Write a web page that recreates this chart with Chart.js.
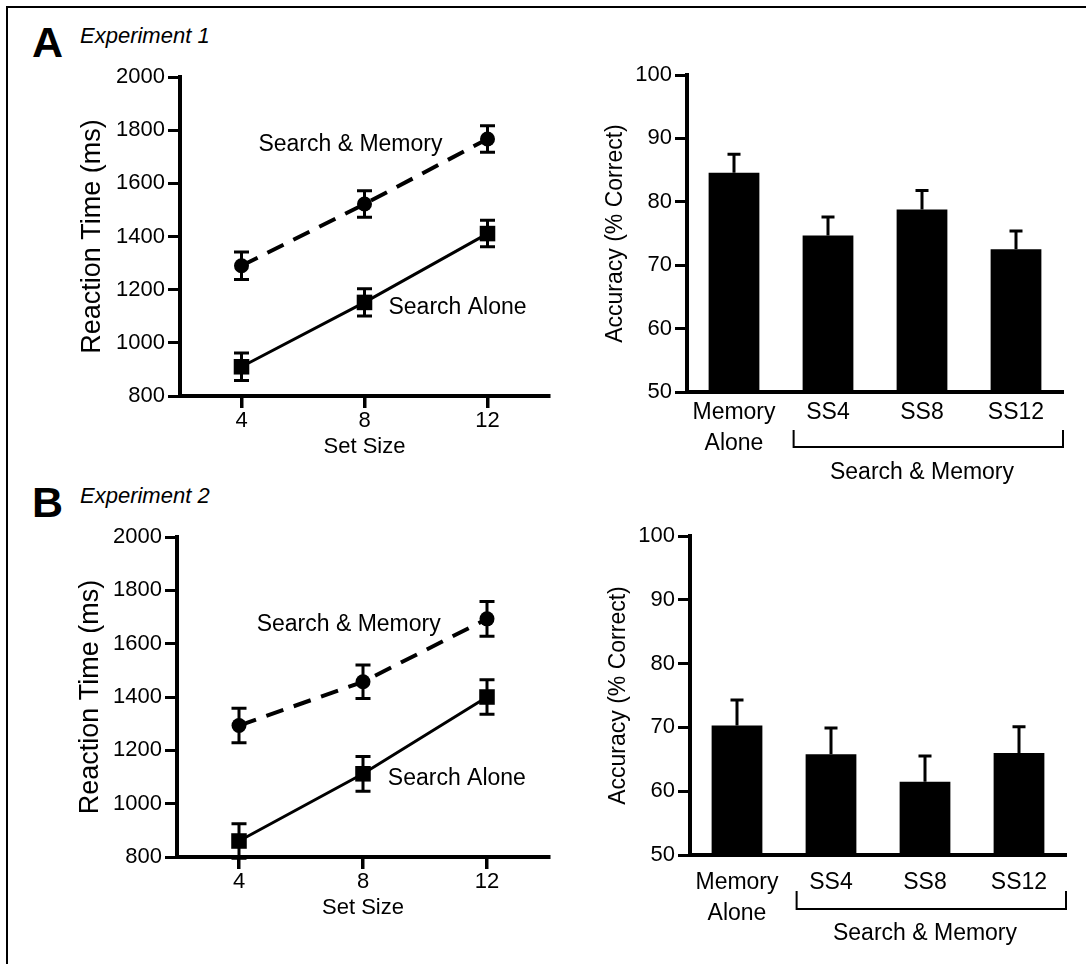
<!DOCTYPE html>
<html>
<head>
<meta charset="utf-8">
<script src="https://cdn.jsdelivr.net/npm/chart.js@4.4.0/dist/chart.umd.min.js"></script>
<style>
  html, body { margin: 0; padding: 0; background: #fff; }
  body { width: 1086px; height: 964px; position: relative; overflow: hidden;
         font-family: "Liberation Sans", Arial, Helvetica, sans-serif; color: #000; }
  #frame { position: absolute; left: 6px; top: 6px; right: -10px; bottom: -10px;
           border-left: 2px solid #000; border-top: 2px solid #000; }
  .box { position: absolute; }
  .letter { position: absolute; font-weight: bold; font-size: 43px; line-height: 43px; }
  .exp { position: absolute; font-style: italic; font-size: 22px; line-height: 22px; }
</style>
</head>
<body>
<div id="frame"></div>
<div class="letter" style="left:32px; top:21px">A</div>
<div class="exp" style="left:80px; top:25px">Experiment 1</div>
<div class="letter" style="left:32px; top:481px">B</div>
<div class="exp" style="left:80px; top:485px">Experiment 2</div>

<div class="box" id="boxA1"><canvas id="rtA"></canvas></div>
<div class="box" id="boxA2"><canvas id="accA"></canvas></div>
<div class="box" id="boxB1"><canvas id="rtB"></canvas></div>
<div class="box" id="boxB2"><canvas id="accB"></canvas></div>

<script>
// ---- data ----
const setSizes = [4, 8, 12];

const exp1DualRT = [1290, 1522, 1767];
const exp1DualSE = [52, 50, 50];
const exp1SearchRT = [910, 1152, 1411];
const exp1SearchSE = [52, 51, 50];

const exp2DualRT = [1293, 1457, 1693];
const exp2DualSE = [65, 63, 65];
const exp2SearchRT = [860, 1112, 1400];
const exp2SearchSE = [65, 65, 65];

const accLabels = [['Memory', 'Alone'], 'SS4', 'SS8', 'SS12'];
const exp1Acc = [84.6, 74.7, 78.8, 72.5];
const exp1AccSE = [2.9, 2.9, 3.0, 2.9];
const exp2Acc = [70.3, 65.8, 61.5, 66.0];
const exp2AccSE = [4.0, 4.1, 4.0, 4.1];

const rtTicks = [800, 1000, 1200, 1400, 1600, 1800, 2000];
const accTicks = [50, 60, 70, 80, 90, 100];

Chart.defaults.font.family = '"Liberation Sans", Arial, Helvetica, sans-serif';
Chart.defaults.color = '#000';
Chart.defaults.animation = false;

// error bars, drawn under the markers
const errorBars = {
  id: 'errorBars',
  beforeDatasetsDraw(chart, args, opts) {
    const ctx = chart.ctx;
    const y = chart.scales.y;
    chart.data.datasets.forEach((ds, i) => {
      if (!ds.errors) return;
      const meta = chart.getDatasetMeta(i);
      ctx.save();
      ctx.strokeStyle = '#000';
      ctx.lineWidth = opts.lineWidth;
      ctx.setLineDash([]);
      meta.data.forEach((el, j) => {
        const raw = ds.data[j];
        const v = typeof raw === 'object' ? raw.y : raw;
        const e = ds.errors[j];
        const top = y.getPixelForValue(v + e);
        const bot = y.getPixelForValue(opts.upOnly ? v : v - e);
        const x = el.x, c = opts.cap / 2;
        ctx.beginPath();
        ctx.moveTo(x, top); ctx.lineTo(x, bot);
        ctx.moveTo(x - c, top); ctx.lineTo(x + c, top);
        if (!opts.upOnly) { ctx.moveTo(x - c, bot); ctx.lineTo(x + c, bot); }
        ctx.stroke();
      });
      ctx.restore();
    });
  }
};

// in-plot series names, anchored in data units
const seriesLabels = {
  id: 'seriesLabels',
  afterDatasetsDraw(chart, args, opts) {
    if (!opts.items) return;
    const {ctx, scales: {x, y}} = chart;
    ctx.save();
    ctx.font = opts.font;
    ctx.fillStyle = '#000';
    ctx.textAlign = 'left';
    ctx.textBaseline = 'middle';
    opts.items.forEach(it => ctx.fillText(it.text, x.getPixelForValue(it.x), y.getPixelForValue(it.y)));
    ctx.restore();
  }
};

// bracket grouping the dual-task bars
const groupBracket = {
  id: 'groupBracket',
  afterDraw(chart, args, opts) {
    if (!opts.text) return;
    const {ctx, chartArea, scales: {x}} = chart;
    const bars = chart.getDatasetMeta(0).data;
    const first = bars[opts.from];
    const left = first.x - first.width / 2 - opts.gap;
    const right = chartArea.right;
    const top = chartArea.bottom + opts.top;
    const base = chartArea.bottom + opts.base;
    ctx.save();
    ctx.strokeStyle = '#000';
    ctx.lineWidth = 2;
    ctx.beginPath();
    ctx.moveTo(left, top); ctx.lineTo(left, base); ctx.lineTo(right, base); ctx.lineTo(right, top);
    ctx.stroke();
    ctx.font = opts.font;
    ctx.fillStyle = '#000';
    ctx.textAlign = 'center';
    ctx.textBaseline = 'alphabetic';
    ctx.fillText(opts.text, x.getPixelForValue(opts.center), chartArea.bottom + opts.textBase);
    ctx.restore();
  }
};

function place(boxId, canvasId, box) {
  const div = document.getElementById(boxId);
  div.style.left = box.left + 'px';
  div.style.top = box.top + 'px';
  div.style.width = box.w + 'px';
  div.style.height = box.h + 'px';
  const cv = document.getElementById(canvasId);
  cv.width = box.w; cv.height = box.h;
  cv.style.width = box.w + 'px'; cv.style.height = box.h + 'px';
  return cv;
}

const plain = v => String(v);

function rtChart(canvasId, boxId, box, area, dual, dualSE, alone, aloneSE, labelItems, yTitleX, xTitleY) {
  const cv = place(boxId, canvasId, box);
  const yTitleFont = 27, xTitleFont = 22;
  new Chart(cv, {
    type: 'line',
    data: {
      datasets: [
        {
          label: 'Search & Memory',
          data: setSizes.map((s, i) => ({x: s, y: dual[i]})),
          errors: dualSE,
          borderColor: '#000', backgroundColor: '#000',
          borderWidth: 4, borderDash: [18, 11], tension: 0,
          pointStyle: 'circle', pointRadius: 7.5, pointBorderWidth: 0,
          pointBackgroundColor: '#000'
        },
        {
          label: 'Search Alone',
          data: setSizes.map((s, i) => ({x: s, y: alone[i]})),
          errors: aloneSE,
          borderColor: '#000', backgroundColor: '#000',
          borderWidth: 3, tension: 0,
          pointStyle: 'rect', pointRadius: 11, pointBorderWidth: 0,
          pointBackgroundColor: '#000'
        }
      ]
    },
    options: {
      responsive: false,
      layout: { padding: { top: area.top - box.top, right: box.left + box.w - area.right, left: 0, bottom: 0 } },
      plugins: {
        legend: { display: false },
        tooltip: { enabled: false },
        errorBars: { lineWidth: 3, cap: 15, upOnly: false },
        seriesLabels: { font: '23px "Liberation Sans", Arial, sans-serif', items: labelItems },
        groupBracket: {}
      },
      scales: {
        x: {
          type: 'linear', min: 2, max: 14,
          afterBuildTicks: s => { s.ticks = setSizes.map(v => ({value: v})); },
          afterFit: s => { s.height = box.top + box.h - area.bottom; },
          grid: { drawOnChartArea: false, drawTicks: true, tickLength: 12, lineWidth: 3.5, color: '#000' },
          border: { display: true, width: 4, color: '#000' },
          ticks: { font: { size: 22 }, padding: 0, maxRotation: 0, autoSkip: false, callback: plain },
          title: {
            display: true, text: 'Set Size', font: { size: xTitleFont },
            padding: { top: 0, bottom: (box.top + box.h - xTitleY) - xTitleFont * 1.2 / 2 }
          }
        },
        y: {
          min: 800, max: 2000,
          afterBuildTicks: s => { s.ticks = rtTicks.map(v => ({value: v})); },
          afterFit: s => { s.width = area.left - box.left; },
          grid: { drawOnChartArea: false, drawTicks: true, tickLength: 12, lineWidth: 3, color: '#000' },
          border: { display: true, width: 4, color: '#000' },
          ticks: { font: { size: 22 }, padding: 3, callback: plain },
          title: {
            display: true, text: 'Reaction Time (ms)', font: { size: yTitleFont },
            padding: { top: (yTitleX - box.left) - yTitleFont * 1.2 / 2, bottom: 0 }
          }
        }
      }
    },
    plugins: [errorBars, seriesLabels, groupBracket]
  });
}

function accChart(canvasId, boxId, box, area, values, errs, yTitleX, tickPad, bracket) {
  const cv = place(boxId, canvasId, box);
  const yTitleFont = 23;
  new Chart(cv, {
    type: 'bar',
    data: {
      labels: accLabels,
      datasets: [{
        label: 'Accuracy',
        data: values,
        errors: errs,
        backgroundColor: '#000',
        borderWidth: 0,
        barPercentage: 0.54,
        categoryPercentage: 1.0
      }]
    },
    options: {
      responsive: false,
      layout: { padding: { top: area.top - box.top, right: box.left + box.w - area.right, left: 0, bottom: 0 } },
      plugins: {
        legend: { display: false },
        tooltip: { enabled: false },
        errorBars: { lineWidth: 3, cap: 13, upOnly: true },
        seriesLabels: {},
        groupBracket: Object.assign({ from: 1, center: 2, gap: 9, font: '23px "Liberation Sans", Arial, sans-serif', text: 'Search & Memory' }, bracket)
      },
      scales: {
        x: {
          afterFit: s => { s.height = box.top + box.h - area.bottom; },
          grid: { display: false, drawTicks: false },
          border: { display: true, width: 4, color: '#000' },
          ticks: { font: { size: 23, lineHeight: 1.36 }, padding: tickPad, maxRotation: 0, autoSkip: false }
        },
        y: {
          min: 50, max: 100,
          afterBuildTicks: s => { s.ticks = accTicks.map(v => ({value: v})); },
          afterFit: s => { s.width = area.left - box.left; },
          grid: { drawOnChartArea: false, drawTicks: true, tickLength: 12, lineWidth: 3, color: '#000' },
          border: { display: true, width: 4, color: '#000' },
          ticks: { font: { size: 22 }, padding: 3, callback: plain },
          title: {
            display: true, text: 'Accuracy (% Correct)', font: { size: yTitleFont },
            padding: { top: (yTitleX - box.left) - yTitleFont * 1.2 / 2, bottom: 0 }
          }
        }
      }
    },
    plugins: [errorBars, seriesLabels, groupBracket]
  });
}

rtChart('rtA', 'boxA1',
  { left: 60, top: 60, w: 500, h: 410 },
  { left: 180, top: 77, right: 553.5, bottom: 396 },
  exp1DualRT, exp1DualSE, exp1SearchRT, exp1SearchSE,
  [ { text: 'Search & Memory', x: 4.55, y: 1747 }, { text: 'Search Alone', x: 8.78, y: 1133 } ],
  93, 447);

rtChart('rtB', 'boxB1',
  { left: 60, top: 520, w: 500, h: 410 },
  { left: 177, top: 537, right: 551, bottom: 857 },
  exp2DualRT, exp2DualSE, exp2SearchRT, exp2SearchSE,
  [ { text: 'Search & Memory', x: 4.57, y: 1671 }, { text: 'Search Alone', x: 8.8, y: 1093 } ],
  91, 908);

accChart('accA', 'boxA2',
  { left: 570, top: 55, w: 500, h: 440 },
  { left: 687, top: 75, right: 1063, bottom: 392 },
  exp1Acc, exp1AccSE, 616, 5,
  { top: 38, base: 55, textBase: 87 });

accChart('accB', 'boxB2',
  { left: 570, top: 516, w: 500, h: 440 },
  { left: 690, top: 536, right: 1066, bottom: 855 },
  exp2Acc, exp2AccSE, 619, 12,
  { top: 36, base: 54, textBase: 85 });
</script>
</body>
</html>
